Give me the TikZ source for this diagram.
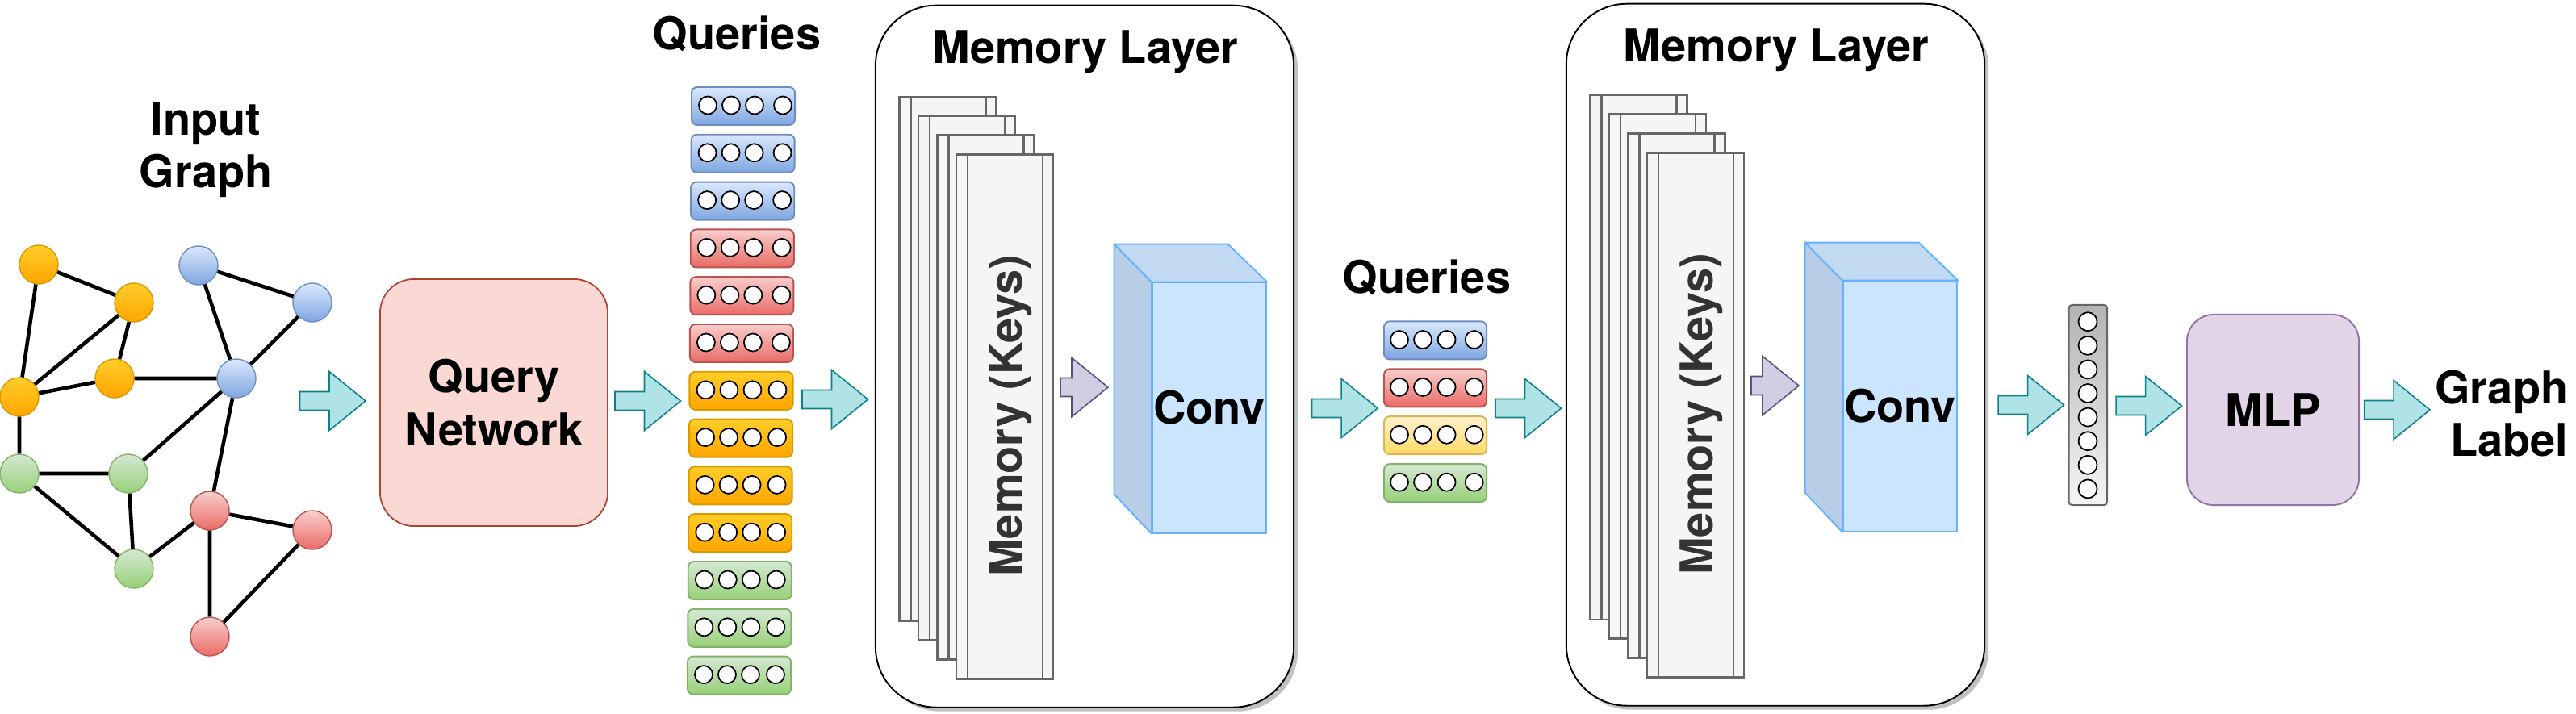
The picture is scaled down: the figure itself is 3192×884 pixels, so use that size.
\documentclass[tikz,border=0pt]{standalone}
\usepackage{fontspec}
\setmainfont{TeX Gyre Heros}
\usetikzlibrary{shadows}

\definecolor{blueTop}{HTML}{DAE8FC}
\definecolor{blueBot}{HTML}{7EA6E0}
\definecolor{blueLine}{HTML}{6C8EBF}
\definecolor{redTop}{HTML}{F8CECC}
\definecolor{redBot}{HTML}{EA6B66}
\definecolor{redLine}{HTML}{B85450}
\definecolor{orangeTop}{HTML}{FFCD28}
\definecolor{orangeBot}{HTML}{FFA500}
\definecolor{orangeLine}{HTML}{D79B00}
\definecolor{greenTop}{HTML}{D5E8D4}
\definecolor{greenBot}{HTML}{97D077}
\definecolor{greenLine}{HTML}{82B366}
\definecolor{yellowTop}{HTML}{FFF2CC}
\definecolor{yellowBot}{HTML}{FFD966}
\definecolor{yellowLine}{HTML}{D6B656}
\definecolor{grayTop}{HTML}{B3B3B3}
\definecolor{grayBot}{HTML}{F5F5F5}
\definecolor{grayLine}{HTML}{666666}
\definecolor{tealFill}{HTML}{B0E3E6}
\definecolor{tealLine}{HTML}{0E8088}
\definecolor{purpFill}{HTML}{D0CEE2}
\definecolor{purpLine}{HTML}{56517E}
\definecolor{qnetFill}{HTML}{FAD9D5}
\definecolor{qnetLine}{HTML}{AE4132}
\definecolor{mlpFill}{HTML}{E1D5E7}
\definecolor{mlpLine}{HTML}{9673A6}
\definecolor{convFront}{HTML}{CCE5FF}
\definecolor{convTop}{HTML}{C2D9F2}
\definecolor{convSide}{HTML}{B8CEE6}
\definecolor{convLine}{HTML}{66B2FF}
\definecolor{pageFill}{HTML}{F5F5F5}
\definecolor{keyText}{HTML}{333333}

\begin{document}
\begin{tikzpicture}[x=0.01cm, y=-0.01cm,
    lbl/.style={font=\fontsize{15.9}{18.5}\selectfont\bfseries, inner sep=0pt},
    bluegrad/.style={top color=blueTop, bottom color=blueBot, draw=blueLine},
    redgrad/.style={top color=redTop, bottom color=redBot, draw=redLine},
    orangegrad/.style={top color=orangeTop, bottom color=orangeBot, draw=orangeLine},
    greengrad/.style={top color=greenTop, bottom color=greenBot, draw=greenLine},
    yellowgrad/.style={top color=yellowTop, bottom color=yellowBot, draw=yellowLine},
    gnode/.style={circle, minimum size=0.48cm, inner sep=0pt, line width=0.4pt},
    gedge/.style={line width=1.3pt},
    qbox/.style={rounded corners=0.07cm, minimum width=1.28cm, minimum height=0.47cm, inner sep=0pt, line width=0.55pt, anchor=north west},
    qdot/.style={circle, draw, fill=white, minimum size=0.22cm, inner sep=0pt, line width=0.5pt},
    tealarrow/.style={fill=tealFill, draw=tealLine, line width=0.45pt},
    memarrow/.style={fill=purpFill, draw=purpLine, line width=0.45pt},
    pics/blockarrow/.style 2 args={code={
      \draw[#2] (0,-11.5) -- (#1,-11.5) -- (#1,-36.5) -- (#1+45,0) -- (#1,36.5) -- (#1,11.5) -- (0,11.5) -- cycle;}},
    memlayer/.style={draw, fill=white, line width=0.55pt, rounded corners=0.75cm, minimum width=5.18cm, minimum height=8.695cm,
      drop shadow={shadow xshift=0.05cm, shadow yshift=-0.05cm, fill=black!30, opacity=0.8}},
    page/.style={fill=pageFill, draw=grayLine, line width=0.8pt},
    pageline/.style={draw=grayLine, line width=0.8pt},
    convface/.style={draw=convLine, line width=0.55pt, line join=round},
    convfront/.style={fill=convFront, draw=convLine, line width=0.55pt, minimum width=1.41cm, minimum height=3.10cm, inner sep=0pt}
  ]
  \useasboundingbox (0,0) rectangle (3192,884);

  \node[lbl, align=center] (inputlbl) at (255,185.5) {Input\\Graph};
  \node[gnode, orangegrad] (o1) at (48,328) {};
  \node[gnode, orangegrad] (o2) at (166,375) {};
  \node[gnode, orangegrad] (o3) at (24,492) {};
  \node[gnode, orangegrad] (o4) at (142,469) {};
  \node[gnode, bluegrad] (b1) at (246,329) {};
  \node[gnode, bluegrad] (b2) at (387,375) {};
  \node[gnode, bluegrad] (b3) at (293,469) {};
  \node[gnode, greengrad] (g1) at (24,587) {};
  \node[gnode, greengrad] (g2) at (159,587) {};
  \node[gnode, greengrad] (g3) at (166,705) {};
  \node[gnode, redgrad] (r1) at (260,633) {};
  \node[gnode, redgrad] (r2) at (387,657) {};
  \node[gnode, redgrad] (r3) at (260,789) {};
  \draw[gedge] (o1) -- (o2) (o1) -- (o3) (o3) -- (o2) (o2) -- (o4) (o3) -- (o4) (o4) -- (b3)
    (b1) -- (b2) (b1) -- (b3) (b2) -- (b3) (o3) -- (g1) (g1) -- (g2) (g1) -- (g3) (g2) -- (g3)
    (g2) -- (b3) (b3) -- (r1) (g3) -- (r1) (r1) -- (r2) (r1) -- (r3) (r2) -- (r3);

  \foreach \ax/\ay in {371.5/497, 762/497, 994/495, 1625.6/506, 1853/506, 2476/502, 2622/503, 2929.5/508}
    \pic at (\ax,\ay) {blockarrow={36.5}{tealarrow}};

  \node[lbl, align=center, rounded corners=0.42cm, fill=qnetFill, draw=qnetLine, line width=0.5pt,
    minimum width=2.82cm, minimum height=3.06cm] (qnet) at (612,499) {Query\\Network};

  \node[lbl, anchor=base] (qlbl1) at (913,61) {Queries};
  \foreach \col/\last [count=\i from 0] in {blue/114,blue/114,blue/114,red/114,red/114,red/114,
      orange/110,orange/110,orange/110,orange/110,green/110,green/110,green/110} {
    \node[qbox, \col grad] (qa\i) at (856-0.42*\i, 107+58.8*\i) {};
    \foreach \dx [count=\j] in {21,50,79,\last}
      \node[qdot] (qa\i-\j) at (856-0.42*\i+\dx, 130.5+58.8*\i) {};
  }

  \foreach \sx/\sy/\idx in {0/0/1, 856/-2/2} {
    \begin{scope}[shift={(\sx,\sy)}]
      \node[memlayer] (layer\idx) at (1344,441.7) {};
      \node[lbl, anchor=base] (title\idx) at (1345,78) {Memory Layer};
      \foreach \k in {0,...,3} {
        \draw[page] (1114.5+23.5*\k,120+23.7*\k) rectangle ++(120,650);
        \draw[pageline] (1128.5+23.5*\k,120+23.7*\k) -- ++(0,650) (1221.5+23.5*\k,120+23.7*\k) -- ++(0,650);
      }
      \node[lbl, text=keyText, rotate=90, anchor=base] (keys\idx) at (1266,515) {Memory (Keys)};
      \pic at (1314,480) {blockarrow={14}{memarrow}};
      \node[convfront, lbl] (conv\idx) at (1498.5,505.6) {Conv};
      \draw[convface, fill=convSide] (conv\idx.north west) -- ++(-46.5,-47) -- ++(0,310) -- (conv\idx.south west) -- cycle;
      \draw[convface, fill=convTop] (conv\idx.north west) -- ++(-46.5,-47) -- ++(141,0) -- (conv\idx.north east) -- cycle;
    \end{scope}
  }

  \node[lbl, anchor=base] (qlbl2) at (1768,363.6) {Queries};
  \foreach \col [count=\i from 0] in {blue,red,yellow,green} {
    \node[qbox, \col grad, minimum width=1.27cm] (qb\i) at (1714, 397.4+58.9*\i) {};
    \foreach \dx [count=\j] in {20,49,78.6,112.7}
      \node[qdot] (qb\i-\j) at (1714+\dx, 421+58.9*\i) {};
  }

  \node[rounded corners=0.04cm, top color=grayTop, bottom color=grayBot, draw=grayLine, line width=0.55pt,
    minimum width=0.474cm, minimum height=2.48cm, inner sep=0pt] (vec) at (2587.3,502) {};
  \foreach \k in {0,...,7}
    \node[qdot, minimum size=0.23cm] (vec-\k) at (2587,398.7+29.6*\k) {};

  \node[lbl, rounded corners=0.33cm, fill=mlpFill, draw=mlpLine, line width=0.55pt,
    minimum width=2.13cm, minimum height=2.36cm] (mlp) at (2816.5,508) {MLP};
  \node[lbl, align=right, anchor=east] (outlbl) at (3183,512.5) {Graph\\Label};
\end{tikzpicture}
\end{document}
